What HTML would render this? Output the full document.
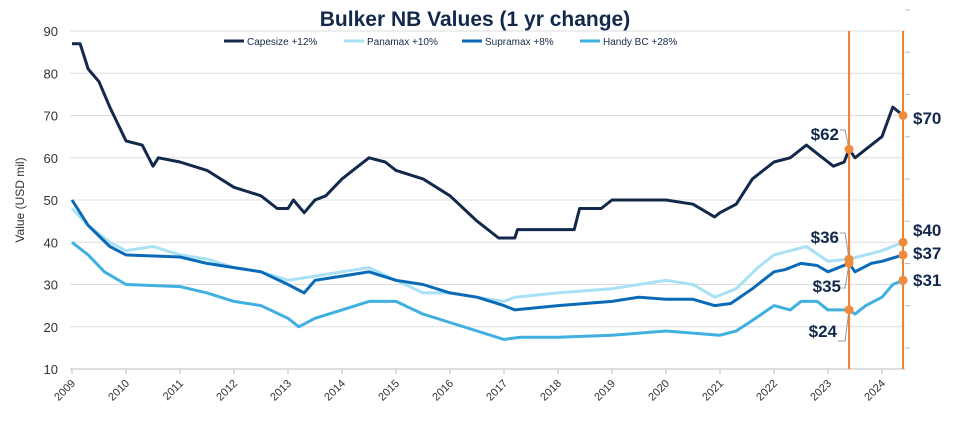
<!DOCTYPE html>
<html><head><meta charset="utf-8"><style>
body{margin:0;background:#fff;}
svg{display:block;font-family:"Liberation Sans",sans-serif;}
</style></head><body>
<svg id="c" width="959" height="423" viewBox="0 0 959 423">
<text x="475" y="26" text-anchor="middle" font-size="21" font-weight="bold" fill="#13294b">Bulker NB Values (1 yr change)</text>
<g font-size="10" fill="#13294b">
<g><line x1="224" y1="41" x2="244" y2="41" stroke="#13294b" stroke-width="3"/><text x="247" y="45">Capesize +12%</text></g>
<g><line x1="344" y1="41" x2="364" y2="41" stroke="#a8e1f5" stroke-width="3"/><text x="367" y="45">Panamax +10%</text></g>
<g><line x1="462" y1="41" x2="482" y2="41" stroke="#0a6ab8" stroke-width="3"/><text x="485" y="45">Supramax +8%</text></g>
<g><line x1="580" y1="41" x2="600" y2="41" stroke="#3fb0e0" stroke-width="3"/><text x="603" y="45">Handy BC +28%</text></g>
</g>
<text transform="translate(24,200) rotate(-90)" text-anchor="middle" font-size="12" fill="#333">Value (USD mil)</text>
<g id="grid"></g><g id="series"></g><g id="ann"></g>
</svg>
<script>
const yTicks=[10,20,30,40,50,60,70,80,90];
const xYears=[2009,2010,2011,2012,2013,2014,2015,2016,2017,2018,2019,2020,2021,2022,2023,2024];
const capT=[2009,2009.15,2009.3,2009.5,2009.7,2010,2010.3,2010.5,2010.6,2011,2011.5,2012,2012.5,2012.8,2013,2013.1,2013.3,2013.5,2013.7,2014,2014.3,2014.5,2014.8,2015,2015.5,2016,2016.5,2016.9,2017.2,2017.25,2018,2018.3,2018.4,2018.8,2019,2019.5,2020,2020.5,2020.9,2021,2021.3,2021.6,2022,2022.3,2022.6,2022.9,2023.1,2023.3,2023.39,2023.5,2023.7,2024,2024.2,2024.39];
const capV=[87,87,81,78,72,64,63,58,60,59,57,53,51,48,48,50,47,50,51,55,58,60,59,57,55,51,45,41,41,43,43,43,48,48,50,50,50,49,46,47,49,55,59,60,63,60,58,59,62,60,62,65,72,70];
const panT=[2009,2009.3,2009.7,2010,2010.5,2011,2011.5,2012,2012.5,2013,2013.5,2014,2014.5,2015,2015.5,2016,2016.5,2017,2017.2,2018,2019,2019.5,2020,2020.5,2020.9,2021,2021.3,2021.7,2022,2022.3,2022.6,2023,2023.39,2023.7,2024,2024.39];
const panV=[48,44,40,38,39,37,36,34,33,31,32,33,34,31,28,28,27,26,27,28,29,30,31,30,27,27.5,29,34,37,38,39,35.5,36,37,38,40];
const supT=[2009,2009.3,2009.7,2010,2011,2011.5,2012,2012.5,2013,2013.3,2013.5,2014,2014.5,2015,2015.5,2016,2016.5,2017,2017.2,2018,2019,2019.5,2020,2020.5,2020.9,2021.2,2021.6,2022,2022.2,2022.5,2022.8,2023,2023.39,2023.5,2023.8,2024,2024.39];
const supV=[50,44,39,37,36.5,35,34,33,30,28,31,32,33,31,30,28,27,25,24,25,26,27,26.5,26.5,25,25.5,29,33,33.5,35,34.5,33,35,33,35,35.5,37];
const hanT=[2009,2009.3,2009.6,2010,2011,2011.5,2012,2012.5,2013,2013.2,2013.5,2014,2014.5,2015,2015.5,2016,2016.5,2017,2017.3,2018,2019,2019.5,2020,2020.5,2021,2021.3,2021.6,2022,2022.3,2022.5,2022.8,2023,2023.39,2023.5,2023.7,2024,2024.2,2024.39];
const hanV=[40,37,33,30,29.5,28,26,25,22,20,22,24,26,26,23,21,19,17,17.5,17.5,18,18.5,19,18.5,18,19,21.5,25,24,26,26,24,24,23,25,27,30,31];
const markerDates=[2023.39,2024.39];
const NS="http://www.w3.org/2000/svg";
const X=t=>72+(t-2009)*54;
const Y=v=>369-(v-10)*4.225;
function mk(tag,at,parent){const e=document.createElementNS(NS,tag);for(const k in at)e.setAttribute(k,at[k]);parent.appendChild(e);return e;}
const grid=document.getElementById('grid'),ser=document.getElementById('series'),ann=document.getElementById('ann');
yTicks.forEach(v=>{
  const l=mk('line',{x1:70,x2:905,y1:Y(v),y2:Y(v),stroke:v===10?'#bbb':'#ddd','stroke-width':1},grid);
  
  
  const t=mk('text',{x:58,y:Y(v)+5,'text-anchor':'end','font-size':13,fill:'#333'},grid);
  t.textContent=v;
  
  
  const r=mk('line',{x1:905,x2:910,y1:Y(v)-21,y2:Y(v)-21,stroke:'#bbb'},grid);
  
  
});
xYears.forEach(yr=>{
  mk('line',{x1:X(yr),x2:X(yr),y1:369,y2:374,stroke:'#bbb'},grid);
  const t=mk('text',{transform:`translate(${X(yr)+4},${384}) rotate(-45)`,'text-anchor':'end','font-size':11,fill:'#333'},grid);
  t.textContent=yr;
  
  
});
function series(T,V,col,name){
  const d=T.map((t,i)=>(i?'L':'M')+X(t).toFixed(1)+','+Y(V[i]).toFixed(1)).join('');
  const p=mk('path',{d:d,fill:'none',stroke:col,'stroke-width':3,'stroke-linejoin':'round'},ser);
  
  
}
series(panT,panV,'#a8e1f5','panamax-line');
series(hanT,hanV,'#3fb0e0','handy-line');
series(supT,supV,'#0a6ab8','supramax-line');
series(capT,capV,'#13294b','capesize-line');
markerDates.forEach((d,i)=>{
  const l=mk('line',{x1:X(d),x2:X(d),y1:31,y2:369,stroke:'#f07f2e','stroke-width':2},ann);
  
  
});
function valAt(T,V,t){for(let i=1;i<T.length;i++){if(t<=T[i]){const f=(t-T[i-1])/(T[i]-T[i-1]);return V[i-1]+f*(V[i]-V[i-1]);}}return V[V.length-1];}
const sets=[[capT,capV],[panT,panV],[supT,supV],[hanT,hanV]];
const leftLab=[[820,140],[820,243],[822,292],[818,337]];
const rightLab=[[913,124],[913,236],[913,259],[913,286]];
sets.forEach((s,k)=>{
  markerDates.forEach((d,i)=>{
    const v=valAt(s[0],s[1],d),cx=X(d),cy=Y(v);
    const pos=i===0?leftLab[k]:rightLab[k];
    if(i===0) mk('polyline',{points:`${pos[0]+20},${pos[1]-(k==3?-4:k==2?4:10)} ${cx-4},${pos[1]-(k==3?-4:k==2?4:10)} ${cx},${cy}`,fill:'none',stroke:'#999','stroke-width':1},ann);
    const c=mk('circle',{cx:cx,cy:cy,r:4.5,fill:'#f08a3c'},ann);
    
    
    const t=mk('text',{x:i===0?pos[0]+19:pos[0],y:pos[1],'text-anchor':i===0?'end':'start','font-size':17,'font-weight':'bold',fill:'#13294b'},ann);
    t.textContent='$'+Math.round(v);
    
    
  });
});
</script>
</body></html>
